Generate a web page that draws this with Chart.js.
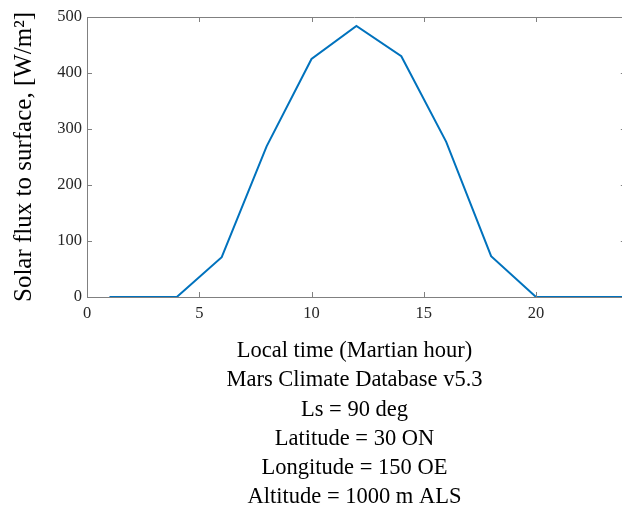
<!DOCTYPE html>
<html>
<head>
<meta charset="utf-8">
<script src="https://cdn.jsdelivr.net/npm/chart.js@4/dist/chart.umd.min.js"></script>
<style>
  html, body { margin: 0; padding: 0; background: #fff; }
  #wrap { width: 622px; height: 512px; }
</style>
</head>
<body>
<div id="wrap"><canvas id="fluxChart" width="622" height="512"></canvas></div>
<script>
// Diurnal solar flux at the surface (MCD v5.3 run)
const hours = [1, 2, 4, 6, 8, 10, 12, 14, 16, 18, 20, 22, 24];
const flux = [0, 0, 0, 71, 269, 425, 484, 430, 277, 73, 0, 0, 0];

const xTicks = [0, 5, 10, 15, 20];
const yTicks = [0, 100, 200, 300, 400, 500];

const xTitle = [
  'Local time (Martian hour)',
  'Mars Climate Database v5.3',
  'Ls = 90 deg',
  'Latitude = 30 ON',
  'Longitude = 150 OE',
  'Altitude = 1000 m ALS'
];
const yTitle = 'Solar flux to surface, [W/m\u00b2]';

const AXIS_COLOR = '#808080';
const TICK_LEN = 5;

// inward ticks on all four sides + top box edge
const boxTicks = {
  id: 'boxTicks',
  afterDraw(chart) {
    const { ctx, chartArea: a, scales: { x, y } } = chart;
    const xr = x.getPixelForValue(24);
    ctx.save();
    ctx.strokeStyle = AXIS_COLOR;
    ctx.lineWidth = 1;
    ctx.beginPath();
    ctx.moveTo(a.left, a.top + 0.5);
    ctx.lineTo(a.right, a.top + 0.5);
    xTicks.forEach(v => {
      const px = Math.round(x.getPixelForValue(v)) + 0.5;
      ctx.moveTo(px, a.bottom);
      ctx.lineTo(px, a.bottom - TICK_LEN);
      ctx.moveTo(px, a.top);
      ctx.lineTo(px, a.top + TICK_LEN);
    });
    yTicks.forEach(v => {
      const py = Math.round(y.getPixelForValue(v)) + 0.5;
      ctx.moveTo(a.left, py);
      ctx.lineTo(a.left + TICK_LEN, py);
      ctx.moveTo(xr, py);
      ctx.lineTo(xr - TICK_LEN, py);
    });
    ctx.stroke();
    ctx.restore();
  }
};

new Chart(document.getElementById('fluxChart'), {
  type: 'line',
  data: {
    datasets: [{
      data: hours.map((h, i) => ({ x: h, y: flux[i] })),
      borderColor: '#0072BD',
      borderWidth: 2,
      pointRadius: 0,
      tension: 0,
      fill: false
    }]
  },
  options: {
    responsive: false,
    animation: false,
    devicePixelRatio: 1,
    layout: { padding: { top: 17, right: 0, bottom: 0, left: 0 } },
    plugins: { legend: { display: false }, tooltip: { enabled: false } },
    scales: {
      x: {
        type: 'linear',
        min: 0,
        max: 23.83,
        afterFit: s => { s.height = 215; },
        afterBuildTicks: s => { s.ticks = xTicks.map(v => ({ value: v })); },
        grid: { display: false, drawTicks: false },
        border: { display: true, color: AXIS_COLOR },
        ticks: {
          color: '#262626',
          padding: 7,
          maxRotation: 0,
          font: { family: 'Liberation Serif', size: 16.5 }
        },
        title: {
          display: true,
          text: xTitle,
          color: '#000',
          padding: { top: 0, bottom: 0 },
          font: { family: 'Liberation Serif', size: 22.5, lineHeight: 1.3 }
        }
      },
      y: {
        min: 0,
        max: 500,
        afterFit: s => { s.width = 87; },
        afterBuildTicks: s => { s.ticks = yTicks.map(v => ({ value: v })); },
        grid: { display: false, drawTicks: false },
        border: { display: true, color: AXIS_COLOR },
        ticks: {
          color: '#262626',
          padding: 5,
          font: { family: 'Liberation Serif', size: 16.5 }
        },
        title: {
          display: true,
          text: yTitle,
          color: '#000',
          padding: { top: 9, bottom: 0 },
          font: { family: 'Liberation Serif', size: 25 }
        }
      }
    }
  },
  plugins: [boxTicks]
});
</script>
</body>
</html>
